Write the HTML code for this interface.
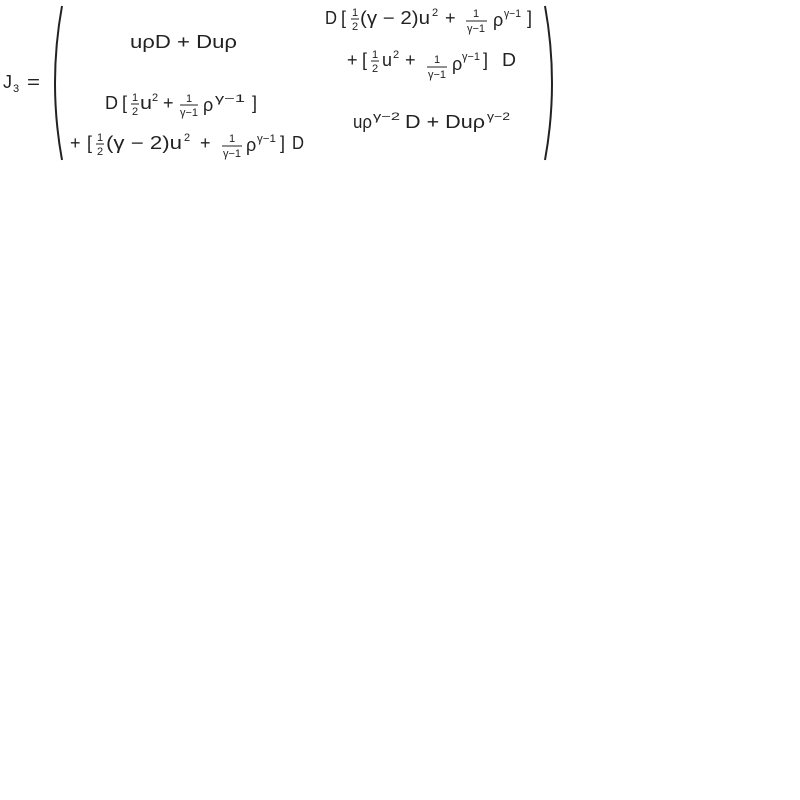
<!DOCTYPE html>
<html><head><meta charset="utf-8"><style>
html,body{margin:0;padding:0;background:#fff;width:800px;height:800px;overflow:hidden}
svg{display:block}
text{font-family:"Liberation Sans",sans-serif;fill:#222}
.m{font-size:18px}
.s{font-size:11px}
line,path{stroke:#222;fill:none}
</style></head><body>
<svg width="800" height="800">
<g>
<text class="m" x="3" y="88">J</text><text class="s" x="13" y="92">3</text>
<text class="m" x="27" y="88" textLength="13" lengthAdjust="spacingAndGlyphs">=</text>
</g>
<path d="M62,6 Q48,83 62,160" stroke-width="2"/>
<path d="M545,6 Q559,83 545,160" stroke-width="2"/>

<text class="m" x="130" y="48" textLength="107" lengthAdjust="spacingAndGlyphs">uρD + Duρ</text>

<g>
<text class="m" x="325" y="24" textLength="12" lengthAdjust="spacingAndGlyphs">D</text>
<text class="m" x="341" y="24">[</text>
<text class="s" x="355" y="16" text-anchor="middle">1</text><line x1="351" y1="19" x2="359" y2="19"/><text class="s" x="355" y="30" text-anchor="middle">2</text>
<text class="m" x="360" y="24" textLength="70" lengthAdjust="spacingAndGlyphs">(γ − 2)u</text><text class="s" x="432" y="16">2</text>
<text class="m" x="445" y="24">+</text>
<text class="s" x="476" y="17" text-anchor="middle">1</text><line x1="466" y1="21" x2="487" y2="21"/><text class="s" x="476" y="32" text-anchor="middle">γ−1</text>
<text class="m" x="493" y="26">ρ</text><text class="s" x="504" y="17" textLength="17" lengthAdjust="spacingAndGlyphs">γ−1</text>
<text class="m" x="527" y="24">]</text>

<text class="m" x="347" y="66">+</text>
<text class="m" x="362" y="66">[</text>
<text class="s" x="375" y="58" text-anchor="middle">1</text><line x1="371" y1="61" x2="379" y2="61"/><text class="s" x="375" y="72" text-anchor="middle">2</text>
<text class="m" x="382" y="66" textLength="10" lengthAdjust="spacingAndGlyphs">u</text><text class="s" x="393" y="58">2</text>
<text class="m" x="405" y="66">+</text>
<text class="s" x="437" y="63" text-anchor="middle">1</text><line x1="427" y1="67" x2="447" y2="67"/><text class="s" x="437" y="78" text-anchor="middle">γ−1</text>
<text class="m" x="452" y="70">ρ</text><text class="s" x="462" y="60" textLength="18" lengthAdjust="spacingAndGlyphs">γ−1</text>
<text class="m" x="483" y="66">]</text>
<text class="m" x="502" y="66" textLength="14" lengthAdjust="spacingAndGlyphs">D</text>
</g>

<g>
<text class="m" x="105" y="109" textLength="13" lengthAdjust="spacingAndGlyphs">D</text>
<text class="m" x="122" y="109">[</text>
<text class="s" x="135" y="101" text-anchor="middle">1</text><line x1="131" y1="104" x2="139" y2="104"/><text class="s" x="135" y="115" text-anchor="middle">2</text>
<text class="m" x="140" y="109" textLength="12" lengthAdjust="spacingAndGlyphs">u</text><text class="s" x="152" y="101">2</text>
<text class="m" x="163" y="109">+</text>
<text class="s" x="189" y="102" text-anchor="middle">1</text><line x1="180" y1="105" x2="198" y2="105"/><text class="s" x="189" y="116" text-anchor="middle">γ−1</text>
<text class="m" x="203" y="111">ρ</text><text class="s" x="215" y="102" textLength="30" lengthAdjust="spacingAndGlyphs">γ−1</text>
<text class="m" x="252" y="109">]</text>

<text class="m" x="70" y="149">+</text>
<text class="m" x="87" y="149">[</text>
<text class="s" x="100" y="141" text-anchor="middle">1</text><line x1="96" y1="144" x2="104" y2="144"/><text class="s" x="100" y="155" text-anchor="middle">2</text>
<text class="m" x="106" y="149" textLength="76" lengthAdjust="spacingAndGlyphs">(γ − 2)u</text><text class="s" x="184" y="141">2</text>
<text class="m" x="200" y="149">+</text>
<text class="s" x="232" y="142" text-anchor="middle">1</text><line x1="222" y1="146" x2="242" y2="146"/><text class="s" x="232" y="157" text-anchor="middle">γ−1</text>
<text class="m" x="246" y="151">ρ</text><text class="s" x="257" y="142" textLength="19" lengthAdjust="spacingAndGlyphs">γ−1</text>
<text class="m" x="280" y="149">]</text>
<text class="m" x="292" y="149" textLength="12" lengthAdjust="spacingAndGlyphs">D</text>
</g>

<g>
<text class="m" x="353" y="128" textLength="19" lengthAdjust="spacingAndGlyphs">uρ</text><text class="s" x="373" y="120" textLength="27" lengthAdjust="spacingAndGlyphs">γ−2</text>
<text class="m" x="405" y="128" textLength="80" lengthAdjust="spacingAndGlyphs">D + Duρ</text><text class="s" x="487" y="120" textLength="23" lengthAdjust="spacingAndGlyphs">γ−2</text>
</g>
</svg>
</body></html>
